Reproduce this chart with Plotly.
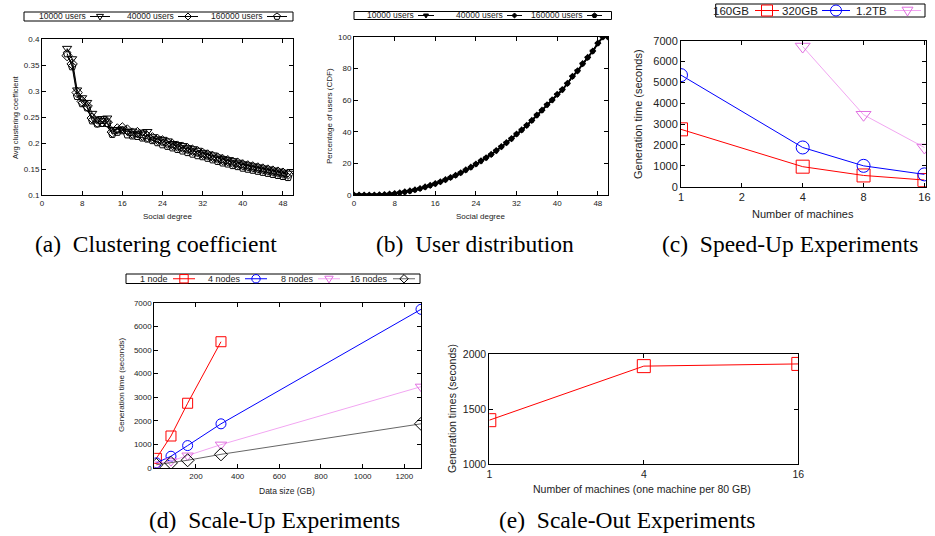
import math
import plotly.graph_objects as go

W, H = 935, 536

# ---------------- data ----------------
# (a) clustering coefficient vs social degree
deg_a = list(range(5, 50))
cc_10k = [0.382, 0.362, 0.302, 0.287, 0.278, 0.257, 0.246, 0.247, 0.248, 0.226,
          0.226, 0.227, 0.222, 0.223, 0.218, 0.221, 0.222, 0.212, 0.208, 0.207,
          0.204, 0.199, 0.197, 0.195, 0.191, 0.189, 0.186, 0.182, 0.179, 0.177,
          0.173, 0.170, 0.168, 0.166, 0.163, 0.160, 0.158, 0.156, 0.154, 0.152,
          0.150, 0.148, 0.146, 0.144, 0.142]
cc_40k = [0.368, 0.352, 0.297, 0.280, 0.271, 0.248, 0.240, 0.241, 0.240, 0.221,
          0.227, 0.229, 0.225, 0.219, 0.220, 0.215, 0.212, 0.210, 0.207, 0.204,
          0.200, 0.197, 0.194, 0.192, 0.189, 0.186, 0.183, 0.180, 0.177, 0.174,
          0.171, 0.168, 0.166, 0.163, 0.161, 0.158, 0.156, 0.154, 0.152, 0.150,
          0.148, 0.146, 0.144, 0.142, 0.140]
cc_160k = [0.372, 0.347, 0.290, 0.276, 0.268, 0.243, 0.237, 0.238, 0.238, 0.217,
           0.221, 0.224, 0.216, 0.214, 0.213, 0.210, 0.208, 0.205, 0.201, 0.197,
           0.194, 0.191, 0.188, 0.185, 0.182, 0.179, 0.176, 0.174, 0.171, 0.168,
           0.165, 0.162, 0.160, 0.157, 0.155, 0.152, 0.150, 0.148, 0.146, 0.144,
           0.142, 0.140, 0.138, 0.136, 0.134]

# (b) user distribution CDF
deg_b = list(range(0, 51))
cdf_10k = [0, 0, 0, 0, 0, 0.1, 0.3, 0.5, 0.9, 1.3, 1.9, 2.5, 3.2, 4.0, 5.0, 6.0, 7.1,
           8.3, 9.6, 11.0, 12.4, 14.0, 15.8, 17.5, 19.5, 21.5, 23.5, 25.5, 28.0,
           30.5, 33.0, 35.5, 38.5, 41.0, 44.0, 47.0, 50.5, 53.5, 57.0, 60.0, 63.6,
           66.5, 70.5, 75.0, 78.5, 83.0, 87.0, 91.0, 96.0, 100, 100]
cdf_40k = [0, 0, 0, 0, 0, 0.1, 0.3, 0.6, 0.9, 1.4, 2.0, 2.6, 3.3, 4.1, 5.1, 6.1, 7.2,
           8.4, 9.7, 11.1, 12.5, 14.1, 15.9, 17.6, 19.6, 21.6, 23.6, 25.7, 28.1,
           30.6, 33.1, 35.7, 38.6, 41.2, 44.1, 47.2, 50.6, 53.7, 57.1, 60.2, 63.7,
           66.7, 70.6, 75.1, 78.6, 83.1, 87.1, 91.1, 96.1, 100, 100]
cdf_160k = [0, 0, 0, 0, 0, 0.1, 0.2, 0.5, 0.8, 1.3, 1.8, 2.4, 3.1, 3.9, 4.9, 5.9, 7.0,
            8.2, 9.5, 10.9, 12.3, 13.9, 15.7, 17.4, 19.4, 21.4, 23.4, 25.4, 27.9,
            30.4, 32.9, 35.4, 38.4, 40.9, 43.9, 46.9, 50.4, 53.4, 56.9, 59.9, 63.5,
            66.4, 70.4, 74.9, 78.4, 82.9, 86.9, 90.9, 95.9, 100, 100]

# (c) speed-up
machines_c = [1, 4, 8, 16]
su_160gb = [2750, 960, 540, 320]
su_320gb = [5350, 1880, 1000, 590]
machines_c_tb = [4, 8, 16]
su_1200gb = [6720, 3450, 1880]

# (d) scale-up
size_1node = [10, 80, 160, 320]
t_1node = [420, 1365, 2750, 5350]
size_multi = [10, 80, 160, 320, 1280]
t_4nodes = [230, 510, 960, 1880, 6720]
t_8nodes = [160, 300, 540, 1000, 3450]
t_16nodes = [150, 230, 340, 590, 1880]

# (e) scale-out
machines_e = [1, 4, 16]
so_time = [1400, 1890, 1910]

# tick labels
xt_deg = [0, 8, 16, 24, 32, 40, 48]
yt_a = [0.1, 0.15, 0.2, 0.25, 0.3, 0.35, 0.4]
yt_b = [0, 20, 40, 60, 80, 100]
yt_time = [0, 1000, 2000, 3000, 4000, 5000, 6000, 7000]
xt_c = [1, 2, 4, 8, 16]
xt_d = [200, 400, 600, 800, 1000, 1200]
xt_e = [1, 4, 16]
yt_e = [1000, 1500, 2000]

PINK_M = "#e070e0"
PINK_L = "#f2a6f2"

# ---------------- helpers ----------------
def px_x(p):
    return p / W

def px_y(p):
    return 1 - p / H

SANS = "Liberation Sans"
SERIF = "Liberation Serif"

def axis(domain, anchor, size, **kw):
    d = dict(domain=domain, anchor=anchor, showline=True, linecolor="black",
             linewidth=1, mirror="ticks", ticks="inside", ticklen=4,
             tickcolor="black", showgrid=False, zeroline=False, automargin=False,
             tickfont=dict(family=SANS, size=size, color="#222"))
    d.update(kw)
    return d

fig = go.Figure()

series_a = [("10000 users", cc_10k, "triangle-down-open"),
            ("40000 users", cc_40k, "diamond-open"),
            ("160000 users", cc_160k, "pentagon-open")]
for name, ys, sym in series_a:
    fig.add_trace(go.Scatter(x=deg_a, y=ys, name=name, mode="lines+markers",
                             line=dict(color="black", width=1),
                             marker=dict(symbol=sym, size=8, color="black",
                                         line=dict(width=1, color="black")),
                             xaxis="x", yaxis="y"))

series_b = [("10000 users", cdf_10k, "triangle-down"),
            ("40000 users", cdf_40k, "diamond"),
            ("160000 users", cdf_160k, "pentagon")]
for name, ys, sym in series_b:
    fig.add_trace(go.Scatter(x=deg_b, y=ys, name=name, mode="lines+markers",
                             line=dict(color="black", width=1.5),
                             marker=dict(symbol=sym, size=5.5, color="black"),
                             xaxis="x2", yaxis="y2"))

series_c = [("160GB", machines_c, su_160gb, "square-open", "red", "red"),
            ("320GB", machines_c, su_320gb, "circle-open", "blue", "blue"),
            ("1.2TB", machines_c_tb, su_1200gb, "triangle-down-open", PINK_M, PINK_L)]
for name, xs, ys, sym, col, lc in series_c:
    fig.add_trace(go.Scatter(x=xs, y=ys, name=name, mode="lines+markers",
                             line=dict(color=lc, width=1),
                             marker=dict(symbol=sym, size=13, color=col,
                                         line=dict(width=1, color=col)),
                             xaxis="x3", yaxis="y3"))

series_d = [("1 node", size_1node, t_1node, "square-open", "red", "red"),
            ("4 nodes", size_multi, t_4nodes, "circle-open", "blue", "blue"),
            ("8 nodes", size_multi, t_8nodes, "triangle-down-open", PINK_M, PINK_L),
            ("16 nodes", size_multi, t_16nodes, "diamond-open", "black", "#666")]
for name, xs, ys, sym, col, lc in series_d:
    fig.add_trace(go.Scatter(x=xs, y=ys, name=name, mode="lines+markers",
                             line=dict(color=lc, width=1),
                             marker=dict(symbol=sym, size=10, color=col,
                                         line=dict(width=1, color=col)),
                             xaxis="x4", yaxis="y4"))

fig.add_trace(go.Scatter(x=machines_e, y=so_time, name="scale-out",
                         mode="lines+markers", line=dict(color="red", width=1),
                         marker=dict(symbol="square-open", size=13, color="red",
                                     line=dict(width=1, color="red")),
                         xaxis="x5", yaxis="y5"))

# ---------------- axes ----------------
dom = {
    "a": ([px_x(42), px_x(293)], [px_y(195), px_y(39)]),
    "b": ([px_x(354), px_x(608)], [px_y(195), px_y(37)]),
    "c": ([px_x(681), px_x(926)], [px_y(186.7), px_y(40.7)]),
    "d": ([px_x(154.3), px_x(421)], [px_y(468.3), px_y(302.7)]),
    "e": ([px_x(489.3), px_x(798.3)], [px_y(464.3), px_y(354)]),
}

fig.update_layout(
    xaxis=axis(dom["a"][0], "y", 8, range=[0, 50], tickvals=xt_deg),
    yaxis=axis(dom["a"][1], "x", 8, range=[0.1, 0.4], tickvals=yt_a,
               ticktext=[str(v) for v in yt_a]),
    xaxis2=axis(dom["b"][0], "y2", 8, range=[0, 50], tickvals=xt_deg),
    yaxis2=axis(dom["b"][1], "x2", 8, range=[0, 100], tickvals=yt_b),
    xaxis3=axis(dom["c"][0], "y3", 11, type="log", range=[0, 1.212],
                tickvals=xt_c, ticktext=[str(v) for v in xt_c]),
    yaxis3=axis(dom["c"][1], "x3", 11, range=[0, 7000], tickvals=yt_time,
                ticktext=[str(v) for v in yt_time]),
    xaxis4=axis(dom["d"][0], "y4", 8, range=[0, 1280], tickvals=xt_d),
    yaxis4=axis(dom["d"][1], "x4", 8, range=[0, 7000], tickvals=yt_time,
                ticktext=[str(v) for v in yt_time]),
    xaxis5=axis(dom["e"][0], "y5", 10.5, type="log", range=[0, 1.2041],
                tickvals=xt_e, ticktext=[str(v) for v in xt_e]),
    yaxis5=axis(dom["e"][1], "x5", 10.5, range=[1000, 2000],
                tickvals=yt_e, ticktext=[str(v) for v in yt_e]),
)

ann = []
shapes = []

def txt(text, x, y, size, family=SANS, angle=0, color="#222", anchor="center"):
    ann.append(dict(text=text, x=px_x(x), y=px_y(y), xref="paper", yref="paper",
                    showarrow=False, textangle=angle, xanchor=anchor,
                    yanchor="middle", font=dict(family=family, size=size, color=color)))

def poly(pts):
    return "M " + " L ".join(f"{px_x(a):.5f},{px_y(b):.5f}" for a, b in pts) + " Z"

def legend_key(sym, cx, cy, s, col):
    filled = not sym.endswith("open")
    base = sym.replace("-open", "")
    fill = col if filled else "rgba(0,0,0,0)"
    st = dict(xref="paper", yref="paper", line=dict(color=col, width=1), fillcolor=fill)
    if base == "square":
        shapes.append(dict(type="rect", x0=px_x(cx - s), x1=px_x(cx + s),
                           y0=px_y(cy + s), y1=px_y(cy - s), **st))
    elif base == "circle":
        shapes.append(dict(type="circle", x0=px_x(cx - s), x1=px_x(cx + s),
                           y0=px_y(cy + s), y1=px_y(cy - s), **st))
    elif base == "triangle-down":
        shapes.append(dict(type="path", path=poly([(cx - s, cy - 0.6 * s),
                                                   (cx + s, cy - 0.6 * s),
                                                   (cx, cy + s)]), **st))
    elif base == "diamond":
        shapes.append(dict(type="path", path=poly([(cx, cy - s), (cx + s, cy),
                                                   (cx, cy + s), (cx - s, cy)]), **st))
    elif base == "pentagon":
        pts = [(cx + s * math.cos(math.radians(-90 + 72 * k)),
                cy + s * math.sin(math.radians(-90 + 72 * k))) for k in range(5)]
        shapes.append(dict(type="path", path=poly(pts), **st))

def legend_box(box, entries, size, ms):
    x0, y0, x1, y1 = box
    shapes.append(dict(type="rect", xref="paper", yref="paper",
                       x0=px_x(x0), x1=px_x(x1), y0=px_y(y1), y1=px_y(y0),
                       line=dict(color="black", width=1), fillcolor="white",
                       layer="above"))
    cy = (y0 + y1) / 2
    for name, sym, col, lc, tx, sx0, sx1 in entries:
        txt(name, tx, cy, size, anchor="right", color="#222")
        shapes.append(dict(type="line", xref="paper", yref="paper",
                           x0=px_x(sx0), x1=px_x(sx1), y0=px_y(cy), y1=px_y(cy),
                           line=dict(color=lc, width=1)))
        legend_key(sym, (sx0 + sx1) / 2, cy, ms, col)

# legends (text right edge, sample start, sample end)
legend_box((24, 12, 293, 21),
           [(n, s, "black", "black", tx, a, b) for (n, _, s), (tx, a, b) in
            zip(series_a, [(88, 90, 110), (176, 178, 198), (265, 267, 287)])],
           8.5, 3.5)
legend_box((354, 11.5, 611.5, 19.5),
           [(n, s, "black", "black", tx, a, b) for (n, _, s), (tx, a, b) in
            zip(series_b, [(416, 418, 434), (505, 507, 522), (585, 587, 602)])],
           8.5, 2.5)
legend_box((715.7, 4, 925, 17),
           [(n, s, c, l, tx, a, b) for (n, _, _, s, c, l), (tx, a, b) in
            zip(series_c, [(751, 755, 779), (820, 822, 850), (889, 894, 921)])],
           11.5, 5.5)
legend_box((126, 274, 420, 283.5),
           [(n, s, c, l, tx, a, b) for (n, _, _, s, c, l), (tx, a, b) in
            zip(series_d, [(170, 173, 195), (243, 245, 267), (316, 318, 340),
                           (390, 393, 415)])],
           9, 4.2)

# axis titles
txt("Avg clustering coefficient", 15, 117, 7.5, angle=-90)
txt("Social degree", 167.5, 216, 8)
txt("Percentage of users (CDF)", 330, 116, 8, angle=-90)
txt("Social degree", 481, 216, 8)
txt("Generation time (seconds)", 638, 114, 11, angle=-90)
txt("Number of machines", 803, 214, 11)
txt("Generation time (seconds)", 121, 385, 8, angle=-90)
txt("Data size (GB)", 287, 491, 8.5)
txt("Generation times (seconds)", 452, 409, 10.5, angle=-90)
txt("Number of machines (one machine per 80 GB)", 642, 489, 10.5)

# captions
NB = "\u00a0 "
txt("(a)" + NB + "Clustering coefficient", 156, 244, 23.5, family=SERIF, color="black")
txt("(b)" + NB + "User distribution", 475, 244, 23.5, family=SERIF, color="black")
txt("(c)" + NB + "Speed-Up Experiments", 790, 244, 23.5, family=SERIF, color="black")
txt("(d)" + NB + "Scale-Up Experiments", 274, 520, 23.5, family=SERIF, color="black")
txt("(e)" + NB + "Scale-Out Experiments", 627, 520, 23.5, family=SERIF, color="black")

fig.update_layout(annotations=ann, shapes=shapes, width=W, height=H,
                  margin=dict(l=0, r=0, t=0, b=0), showlegend=False,
                  hovermode=False,
                  paper_bgcolor="white", plot_bgcolor="white")

fig.write_html("out.html", config={"displayModeBar": False},
               post_script="document.body.style.margin='0';"
                           "document.body.style.overflow='hidden';")
